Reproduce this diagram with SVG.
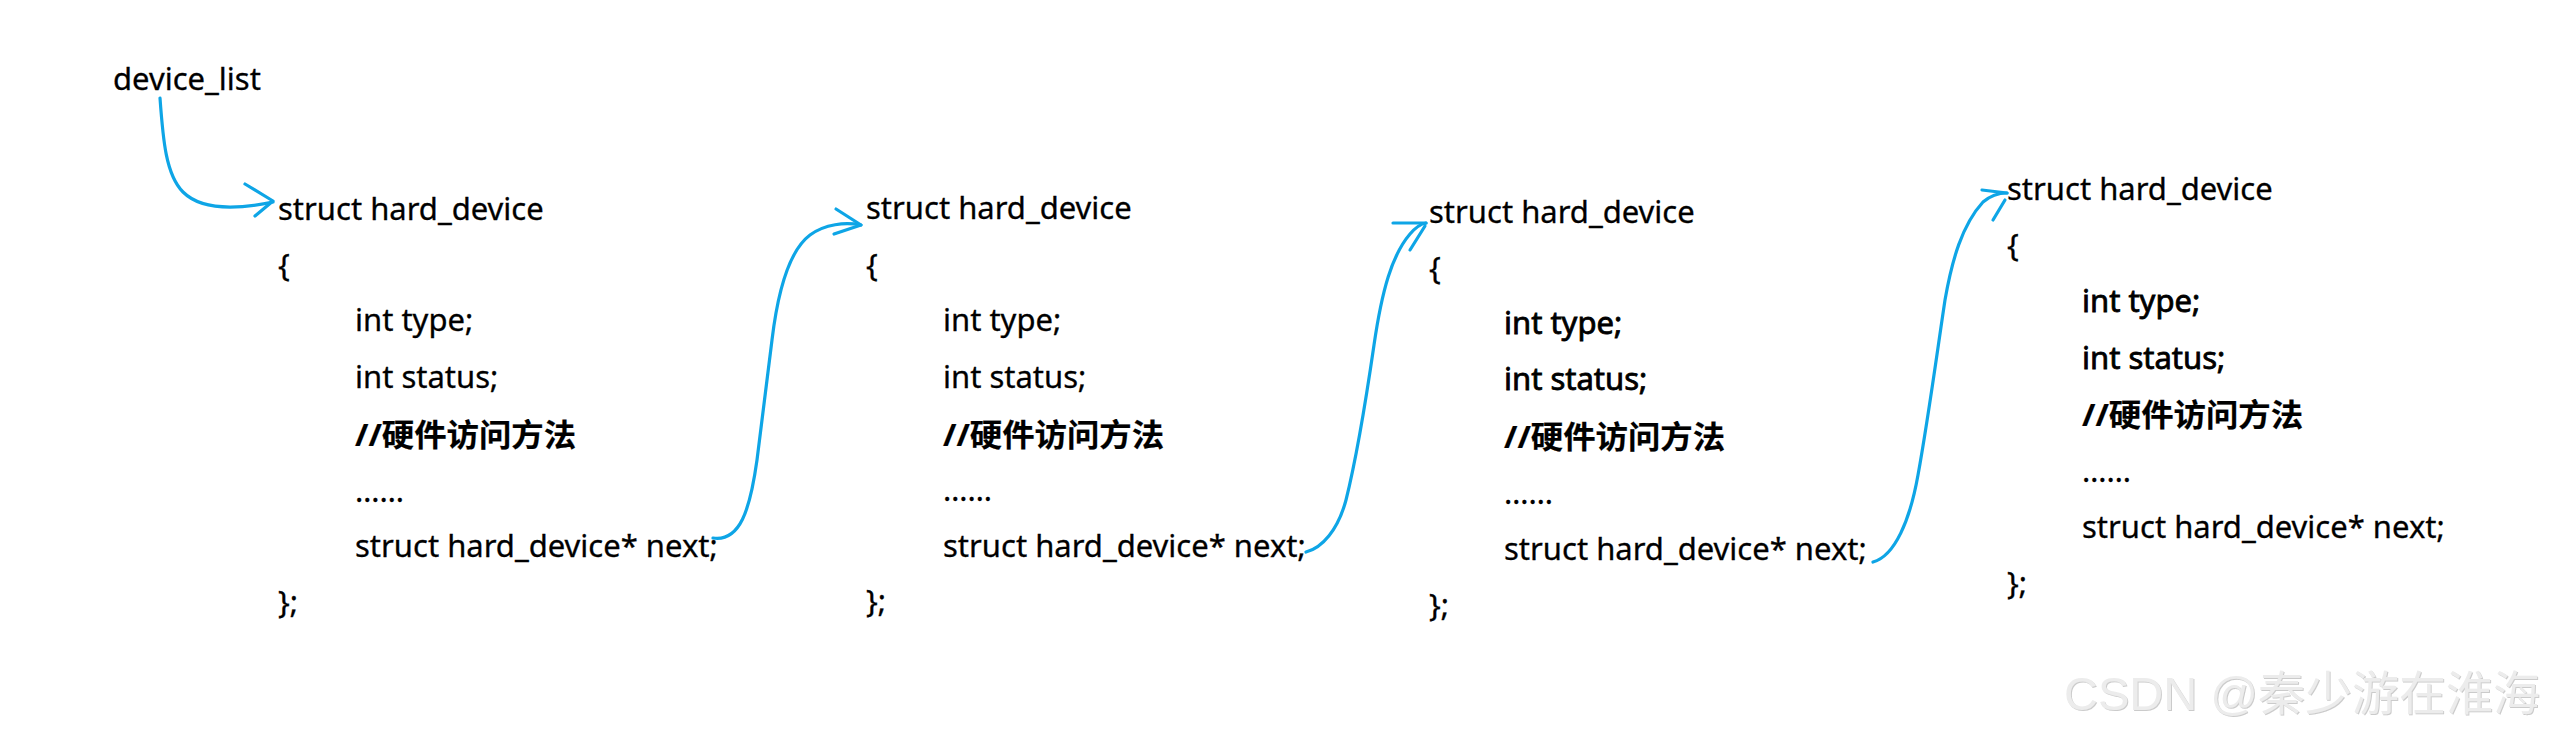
<svg xmlns="http://www.w3.org/2000/svg" width="2561" height="737" viewBox="0 0 2561 737">
<style>
text{font-family:"Noto Sans","Noto Sans CJK SC",sans-serif;font-size:31px;fill:#000;stroke:#000;stroke-width:0.3}
.cn{font-weight:bold;stroke-width:0.2}
.hv{stroke-width:0.8}
.wm{font-family:"Liberation Sans","Noto Sans CJK SC",sans-serif;font-size:47px;fill:#ececec;stroke:none}
.c{fill:none;stroke:#0ea5e6;stroke-width:3.2;stroke-linecap:round;stroke-linejoin:round}
</style>
<defs>
<filter id="emb" x="-5%" y="-20%" width="110%" height="140%">
<feDropShadow dx="1" dy="1" stdDeviation="0.5" flood-color="#a8a8a8" flood-opacity="0.6"/>
</filter>
</defs>
<rect width="2561" height="737" fill="#fff"/>
<g id="device_list"><text x="113" y="90">device_list</text></g>
<g id="node1">
<text x="278" y="220">struct hard_device</text>
<text x="278" y="276">{</text>
<text x="355" y="331">int type;</text>
<text x="355" y="388">int status;</text>
<text x="355" y="446" class="cn" textLength="221" lengthAdjust="spacingAndGlyphs">//硬件访问方法</text>
<text x="355" y="502">……</text>
<text x="355" y="557">struct hard_device* next;</text>
<text x="278" y="613">};</text>
</g>
<g id="node2">
<text x="866" y="219">struct hard_device</text>
<text x="866" y="276">{</text>
<text x="943" y="331">int type;</text>
<text x="943" y="388">int status;</text>
<text x="943" y="446" class="cn" textLength="221" lengthAdjust="spacingAndGlyphs">//硬件访问方法</text>
<text x="943" y="501">……</text>
<text x="943" y="557">struct hard_device* next;</text>
<text x="866" y="612">};</text>
</g>
<g id="node3">
<text x="1429" y="223">struct hard_device</text>
<text x="1429" y="279">{</text>
<text x="1504" y="334" class="hv">int type;</text>
<text x="1504" y="390" class="hv">int status;</text>
<text x="1504" y="448" class="cn" textLength="221" lengthAdjust="spacingAndGlyphs">//硬件访问方法</text>
<text x="1504" y="504">……</text>
<text x="1504" y="560">struct hard_device* next;</text>
<text x="1429" y="616">};</text>
</g>
<g id="node4">
<text x="2007" y="200">struct hard_device</text>
<text x="2007" y="256">{</text>
<text x="2082" y="312" class="hv">int type;</text>
<text x="2082" y="369" class="hv">int status;</text>
<text x="2082" y="426" class="cn" textLength="221" lengthAdjust="spacingAndGlyphs">//硬件访问方法</text>
<text x="2082" y="482">……</text>
<text x="2082" y="538">struct hard_device* next;</text>
<text x="2007" y="594">};</text>
</g>
<g id="connectors">
<path class="c" d="M160,98 C163,140 166,175 183,192 C198,207 225,212 273,202"/>
<path class="c" d="M245,184 L273,201 L255,216"/>
<path class="c" d="M713,538 C740,542 750,510 757,460 L772,340 C778,290 790,250 810,235 C825,224 845,222 861,225"/>
<path class="c" d="M836,209 L861,225 L834,234"/>
<path class="c" d="M1306,552 C1322,548 1338,530 1346,500 C1356,460 1366,400 1374,345 C1382,290 1392,255 1410,234 C1416,227 1420,224 1426,223"/>
<path class="c" d="M1393,223 L1426,223 M1410,250 L1425,226"/>
<path class="c" d="M1873,562 C1895,556 1910,520 1918,475 C1928,420 1936,360 1945,300 C1952,260 1962,225 1983,202 C1990,196 1998,193 2007,193"/>
<path class="c" d="M1982,190 L2007,193 M1993,220 L2005,200"/>
</g>
<text class="wm" x="2064" y="710" filter="url(#emb)">CSDN @秦少游在淮海</text>
</svg>
